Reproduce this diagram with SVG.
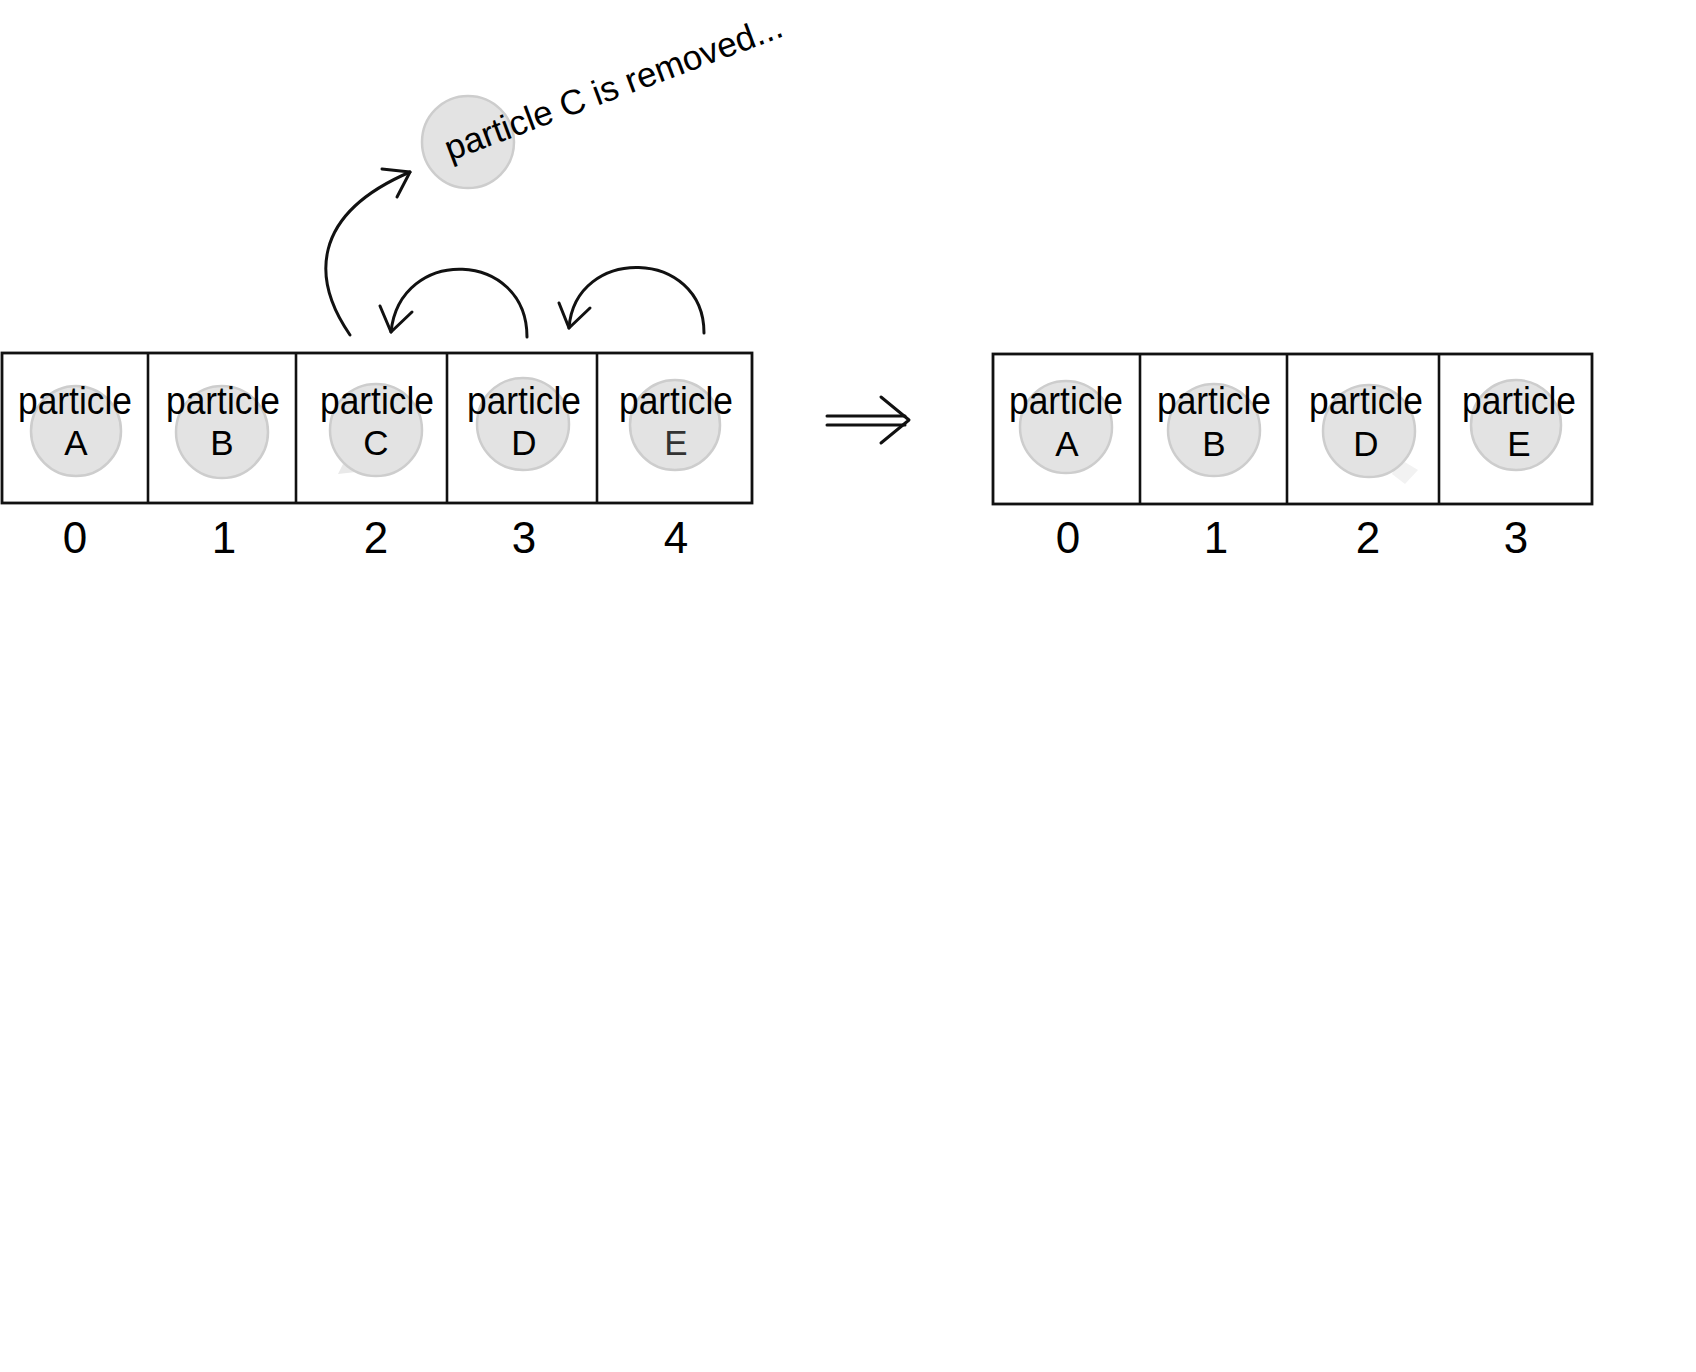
<svg xmlns="http://www.w3.org/2000/svg" width="1696" height="1372" viewBox="0 0 1696 1372">
<style>
.box{fill:none;stroke:#111;stroke-width:2.8}
.div{stroke:#111;stroke-width:2.6}
.ball{fill:#e3e3e3;stroke:#cdcdcd;stroke-width:2.5}
.lbl{font-family:"Liberation Sans",Arial,sans-serif;fill:#000;text-anchor:middle}
.pt{font-size:38px}
.lt{font-size:35px}
.dg{font-size:44px}
.con{fill:none;stroke:#111;stroke-width:3;stroke-linecap:round;stroke-linejoin:round}
</style>
<rect width="1696" height="1372" fill="#fff"/>

<g id="removed-particle">
<circle class="ball" cx="468" cy="142" r="46"/>
<text class="lbl" style="text-anchor:start;font-size:35px" transform="translate(450,161) rotate(-20.5)">particle C is removed...</text>
</g>

<g id="array-before">
<rect class="box" x="2" y="353" width="750" height="150"/>
<line class="div" x1="148" y1="353" x2="148" y2="503"/>
<line class="div" x1="296" y1="353" x2="296" y2="503"/>
<line class="div" x1="447" y1="353" x2="447" y2="503"/>
<line class="div" x1="597" y1="353" x2="597" y2="503"/>
</g>
<g id="cell-A0">
<circle class="ball" cx="76" cy="431" r="45"/>
<text class="lbl pt" x="75" y="414" textLength="114" lengthAdjust="spacingAndGlyphs">particle</text>
<text class="lbl lt" x="76" y="455">A</text>
<text class="lbl dg" x="75" y="553">0</text>
</g>
<g id="cell-B1">
<circle class="ball" cx="222" cy="432" r="46"/>
<text class="lbl pt" x="223" y="414" textLength="114" lengthAdjust="spacingAndGlyphs">particle</text>
<text class="lbl lt" x="222" y="455">B</text>
<text class="lbl dg" x="224" y="553">1</text>
</g>
<g id="cell-C2">
<path d="M345,460 L338,474 L356,472 Z" fill="#e9e9e9"/>
<circle class="ball" cx="376" cy="430" r="46"/>
<text class="lbl pt" x="377" y="414" textLength="114" lengthAdjust="spacingAndGlyphs">particle</text>
<text class="lbl lt" x="376" y="455">C</text>
<text class="lbl dg" x="376" y="553">2</text>
</g>
<g id="cell-D3">
<circle class="ball" cx="523" cy="424" r="46"/>
<text class="lbl pt" x="524" y="414" textLength="114" lengthAdjust="spacingAndGlyphs">particle</text>
<text class="lbl lt" x="524" y="455">D</text>
<text class="lbl dg" x="524" y="553">3</text>
</g>
<g id="cell-E4">
<circle class="ball" cx="675" cy="425" r="45"/>
<text class="lbl pt" x="676" y="414" textLength="114" lengthAdjust="spacingAndGlyphs">particle</text>
<text class="lbl lt" x="676" y="455" style="fill:#333">E</text>
<text class="lbl dg" x="676" y="553">4</text>
</g>

<g id="array-after">
<rect class="box" x="993" y="354" width="599" height="150"/>
<line class="div" x1="1140" y1="354" x2="1140" y2="504"/>
<line class="div" x1="1287" y1="354" x2="1287" y2="504"/>
<line class="div" x1="1439" y1="354" x2="1439" y2="504"/>
</g>
<g id="cell-A0-after">
<circle class="ball" cx="1066" cy="427" r="46"/>
<text class="lbl pt" x="1066" y="414" textLength="114" lengthAdjust="spacingAndGlyphs">particle</text>
<text class="lbl lt" x="1067" y="456">A</text>
<text class="lbl dg" x="1068" y="553">0</text>
</g>
<g id="cell-B1-after">
<circle class="ball" cx="1214" cy="430" r="46"/>
<text class="lbl pt" x="1214" y="414" textLength="114" lengthAdjust="spacingAndGlyphs">particle</text>
<text class="lbl lt" x="1214" y="456">B</text>
<text class="lbl dg" x="1216" y="553">1</text>
</g>
<g id="cell-D2-after">
<path d="M1398,458 L1418,470 L1405,484 L1392,474 Z" fill="#f2f2f2"/>
<circle class="ball" cx="1369" cy="431" r="46"/>
<text class="lbl pt" x="1366" y="414" textLength="114" lengthAdjust="spacingAndGlyphs">particle</text>
<text class="lbl lt" x="1366" y="456">D</text>
<text class="lbl dg" x="1368" y="553">2</text>
</g>
<g id="cell-E3-after">
<circle class="ball" cx="1516" cy="425" r="45"/>
<text class="lbl pt" x="1519" y="414" textLength="114" lengthAdjust="spacingAndGlyphs">particle</text>
<text class="lbl lt" x="1519" y="456">E</text>
<text class="lbl dg" x="1516" y="553">3</text>
</g>

<g id="connectors">
<path class="con" d="M350,335 C312,280 310,215 410,172"/>
<path class="con" d="M382,169 L410,172 L397,197"/>
<path class="con" d="M527,337 C527,250 400,245 391,332"/>
<path class="con" d="M380,306 L391,332 L412,312"/>
<path class="con" d="M704,333 C704,248 575,245 569,328"/>
<path class="con" d="M559,303 L569,328 L590,308"/>
<path class="con" d="M827,416 L905,416 M827,425 L905,425"/>
<path class="con" d="M881,397 L909,420 L881,443"/>
</g>
</svg>
